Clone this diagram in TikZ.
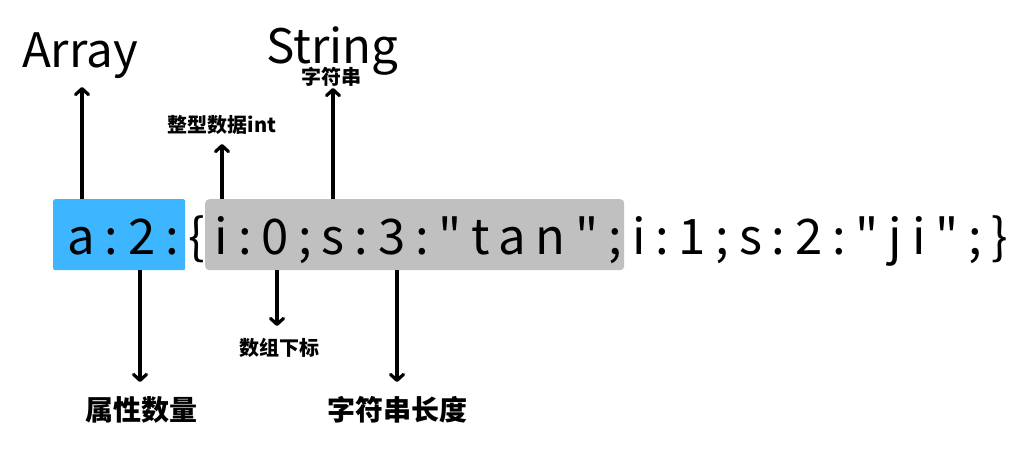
\documentclass[tikz,border=0pt]{standalone}
\usepackage{fontspec}
\setmainfont{Noto Sans CJK SC}
\newfontfamily\codefont[LetterSpace=20]{Noto Sans CJK SC}
\usetikzlibrary{arrows.meta}
\definecolor{boxblue}{HTML}{3DB6FF}
\definecolor{boxgray}{HTML}{C0C0C0}
\begin{document}
\begin{tikzpicture}[x=1pt,y=-1pt,
  arr/.style={line width=3.2pt,-{Straight Barb[length=6pt,width=13pt,round]}},
  lbl/.style={font=\bfseries\fontsize{20}{20}\selectfont, inner sep=0pt},
  big/.style={font=\bfseries\fontsize{28}{28}\selectfont, inner sep=0pt},
  title/.style={font=\fontsize{47.5}{48}\selectfont, inner sep=0pt, anchor=base},
  hl/.style={inner sep=0pt, anchor=north west}]
\useasboundingbox (0,0) rectangle (1028,472);
\fill[white] (0,0) rectangle (1028,472);
% highlight boxes
\node[hl, fill=boxblue, rounded corners=2pt, minimum width=132pt, minimum height=71pt] (blue) at (53,199) {};
\node[hl, fill=boxgray, rounded corners=4pt, minimum width=419pt, minimum height=71pt] (gray) at (205,199) {};
% serialized string
\node[anchor=base west, inner sep=0pt, font=\codefont\fontsize{49}{49}\selectfont] (code) at (67,254) {a:2:\{i:0;s:3:"tan";i:1;s:2:"ji";\}};
% top labels
\node[title] (array) at (80,67) {Array};
\node[title] (string) at (332.5,63) {String};
\node[lbl] (zfc) at (331.5,77) {字符串};
\node[lbl] (int) at (222,125) {整型数据int};
% bottom labels
\node[big] (sxsl) at (141,410) {属性数量};
\node[lbl] (szxb) at (279,348) {数组下标};
\node[big] (zfccd) at (397,410) {字符串长度};
% arrow tips
\coordinate (tArray) at (82,87);
\coordinate (tInt) at (222,144);
\coordinate (tString) at (333,88);
\coordinate (tCount) at (140,382);
\coordinate (tIndex) at (277,326);
\coordinate (tLen) at (397,382);
% arrows
\draw[arr] (blue.north -| tArray) -- (tArray);
\draw[arr] (gray.north -| tInt) -- (tInt);
\draw[arr] (gray.north -| tString) -- (tString);
\draw[arr] (blue.south -| tCount) -- (tCount);
\draw[arr] (gray.south -| tIndex) -- (tIndex);
\draw[arr] (gray.south -| tLen) -- (tLen);
\end{tikzpicture}
\end{document}
